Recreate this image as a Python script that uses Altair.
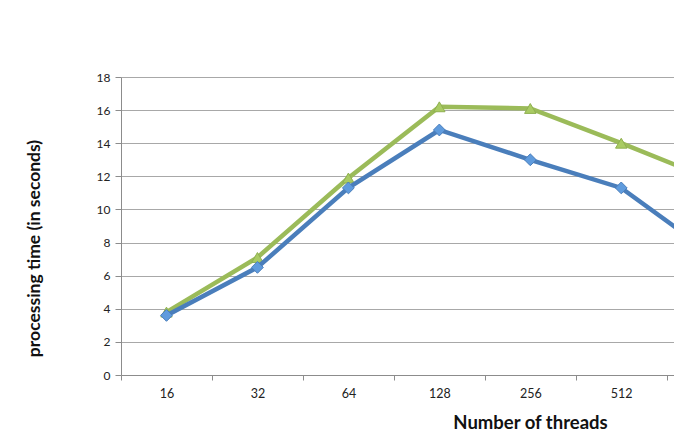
import altair as alt
import pandas as pd

threads = ["16", "32", "64", "128", "256", "512", "1024"]
series_blue = [3.6, 6.5, 11.3, 14.8, 13.0, 11.3, 7.3]
series_green = [3.8, 7.1, 11.9, 16.2, 16.1, 14.0, 11.8]
y_ticks = [0, 2, 4, 6, 8, 10, 12, 14, 16, 18]

rows = []
for i, t in enumerate(threads):
    rows.append({"idx": i, "threads": t, "series": "green", "time": series_green[i]})
for i, t in enumerate(threads):
    rows.append({"idx": i, "threads": t, "series": "blue", "time": series_blue[i]})
df = pd.DataFrame(rows)

shown = "[" + ",".join("'" + t + "'" for t in threads) + "]"
label_expr = f"{shown}[round(datum.value)]"
label_vals = list(range(6))
tick_vals = [i - 0.5 for i in range(7)]

font = "Lato"
xscale = alt.Scale(domain=[-0.5, 5.58], nice=False, zero=False)

x_labels = alt.X(
    "idx:Q",
    scale=xscale,
    axis=alt.Axis(
        orient="bottom",
        values=label_vals,
        labelExpr=label_expr,
        labelOverlap=False,
        labelFlush=False,
        grid=False,
        ticks=False,
        domainColor="#8c8c8c",
        labelFont=font,
        labelFontSize=12.5,
        labelColor="#222222",
        labelPadding=12,
        title="Number of threads",
        titleFont=font,
        titleFontSize=18.5,
        titleFontWeight="bold",
        titleColor="#111111",
        titleX=409,
        titleY=53,
        titleBaseline="alphabetic",
    ),
)

x_ticks = alt.X(
    "idx:Q",
    scale=xscale,
    axis=alt.Axis(
        orient="bottom",
        values=tick_vals,
        labels=False,
        grid=False,
        domain=False,
        tickSize=5,
        tickColor="#8c8c8c",
        title=None,
    ),
)

x_none = alt.X("idx:Q", scale=xscale, axis=None)

y_enc = alt.Y(
    "time:Q",
    scale=alt.Scale(domain=[0, 18], nice=False),
    axis=alt.Axis(
        values=y_ticks,
        grid=True,
        gridColor="#a8a8a8",
        gridWidth=1,
        tickSize=6,
        tickColor="#8c8c8c",
        domainColor="#8c8c8c",
        labelFont=font,
        labelFontSize=12,
        labelColor="#222222",
        labelPadding=5,
        title="processing time (in seconds)",
        titleFont=font,
        titleFontSize=17.5,
        titleFontWeight="bold",
        titleColor="#111111",
        titleX=-87,
        titleY=171,
        titleBaseline="middle",
    ),
)

base = alt.Chart(df)
green = base.transform_filter("datum.series == 'green'")
blue = base.transform_filter("datum.series == 'blue'")

green_line = green.mark_line(strokeWidth=4.5, clip=True, color="#9BBB59").encode(
    x=x_labels, y=y_enc
)
green_pts = green.mark_point(
    shape="triangle-up", filled=True, size=130, clip=True, color="#A9CB63",
    stroke="#8fb050", strokeWidth=1, opacity=1
).encode(x=x_ticks, y=y_enc)
blue_line = blue.mark_line(strokeWidth=4.5, clip=True, color="#4A7EBB").encode(
    x=x_none, y=y_enc
)
blue_pts = blue.mark_point(
    shape="diamond", filled=True, size=140, clip=True, color="#5F9BDD",
    stroke="#4A7EBB", strokeWidth=1, opacity=1
).encode(x=x_none, y=y_enc)

chart = (
    alt.layer(green_line, green_pts, blue_line, blue_pts)
    .resolve_axis(x="independent")
    .properties(
        width=553,
        height=298,
        padding={"left": 17, "top": 63, "right": 0, "bottom": 5},
        background="white",
    )
    .configure_view(stroke=None)
)

chart.save("out.html", embed_options={"renderer": "svg", "actions": False})
